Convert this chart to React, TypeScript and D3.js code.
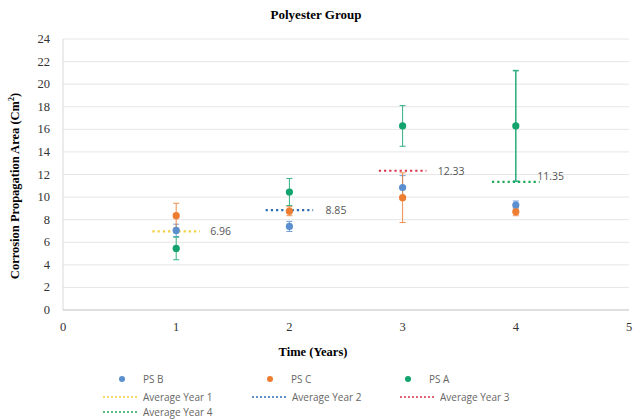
import React from "react";
import * as d3 from "d3";

const years = [1, 2, 3, 4];
const psB = [7.05, 7.4, 10.85, 9.3];
const psBErr = [0.55, 0.45, 1.05, 0.35];
const psC = [8.35, 8.75, 9.95, 8.7];
const psCErr = [1.1, 0.4, 2.2, 0.35];
const psA = [5.45, 10.45, 16.3, 16.3];
const psAErr = [1.0, 1.2, 1.8, 4.9];
const averages = [6.96, 8.85, 12.33, 11.35];
const avgLabels = ["6.96", "8.85", "12.33", "11.35"];
const avgLabelX = [1.3, 2.32, 3.31, 4.19];
const avgLabelDy = [0, 0, 0, -6];
const yTicks = [0, 2, 4, 6, 8, 10, 12, 14, 16, 18, 20, 22, 24];
const xTicks = [0, 1, 2, 3, 4, 5];

const seriesNames = ["PS B", "PS C", "PS A"];
const seriesColors = ["#5b8fd0", "#ed7d31", "#12a36e"];
const avgNames = ["Average Year 1", "Average Year 2", "Average Year 3", "Average Year 4"];
const avgColors = ["#f2cf3a", "#2e6db4", "#d9344a", "#1fa855"];

export default function App() {
  const W = 633, H = 420;
  const x = d3.scaleLinear().domain([0, 5]).range([63, 629]);
  const y = d3.scaleLinear().domain([0, 24]).range([310, 39]);
  const serif = "'Liberation Serif', 'Times New Roman', serif";
  const sans = "'Open Sans', 'DejaVu Sans', sans-serif";
  const series = [
    { v: psB, e: psBErr },
    { v: psC, e: psCErr },
    { v: psA, e: psAErr },
  ];
  return (
    <svg width={W} height={H} style={{ position: "absolute", left: 0, top: 0, background: "#fff" }}>
      <rect width={W} height={H} fill="#fff" />
      <text x={316} y={19} textAnchor="middle" fontFamily={serif} fontWeight="bold" fontSize={13}>Polyester Group</text>
      {yTicks.filter(t => t > 0).map(t => (
        <line key={t} x1={x(0)} x2={x(5)} y1={y(t)} y2={y(t)} stroke="#e6e6e6" strokeWidth={1} />
      ))}
      <line x1={x(0)} x2={x(0)} y1={y(24)} y2={y(0)} stroke="#d9d9d9" />
      <line x1={x(0)} x2={x(5)} y1={y(0)} y2={y(0)} stroke="#bfbfbf" />
      {yTicks.map(t => (
        <text key={t} x={50} y={y(t) + 4} textAnchor="end" fontFamily={serif} fontSize={12.5} fill="#333">{t}</text>
      ))}
      {xTicks.map(t => (
        <text key={t} x={x(t)} y={331} textAnchor="middle" fontFamily={serif} fontSize={12.5} fill="#333">{t}</text>
      ))}
      <text x={313} y={356} textAnchor="middle" fontFamily={serif} fontWeight="bold" fontSize={12.5}>Time (Years)</text>
      <text transform={`translate(19,${186}) rotate(-90)`} textAnchor="middle" fontFamily={serif} fontWeight="bold" fontSize={12.5}>
        Corrosion Propagation Area (Cm<tspan dy={-5} fontSize={8}>2</tspan><tspan dy={5}>)</tspan>
      </text>
      {averages.map((a, i) => (
        <g key={i}>
          <line x1={x(years[i] - 0.21)} x2={x(years[i] + 0.21)} y1={y(a)} y2={y(a)} stroke={avgColors[i]} strokeWidth={2.2} strokeDasharray="2.2,3" />
          <text x={x(avgLabelX[i])} y={y(a) + 4 + avgLabelDy[i]} fontFamily={sans} fontSize={10.5} fill="#555">{avgLabels[i]}</text>
        </g>
      ))}
      {series.map((s, si) => (
        <g key={si}>
          {s.v.map((v, i) => (
            <g key={i} stroke={seriesColors[si]} strokeWidth={si === 2 && i === 3 ? 1.6 : 1} opacity={0.85}>
              <line x1={x(years[i])} x2={x(years[i])} y1={y(v - s.e[i])} y2={y(v + s.e[i])} />
              <line x1={x(years[i]) - 3} x2={x(years[i]) + 3} y1={y(v - s.e[i])} y2={y(v - s.e[i])} />
              <line x1={x(years[i]) - 3} x2={x(years[i]) + 3} y1={y(v + s.e[i])} y2={y(v + s.e[i])} />
            </g>
          ))}
        </g>
      ))}
      {series.map((s, si) => (
        <g key={si}>
          {s.v.map((v, i) => (
            <circle key={i} cx={x(years[i])} cy={y(v)} r={3.6} fill={seriesColors[si]} />
          ))}
        </g>
      ))}
      {seriesNames.map((n, i) => {
        const lx = [122, 270, 408][i];
        return (
          <g key={n}>
            <circle cx={lx} cy={379} r={3} fill={seriesColors[i]} />
            <text x={lx + 21} y={383} fontFamily={sans} fontSize={10} fill="#666">{n}</text>
          </g>
        );
      })}
      {avgNames.map((n, i) => {
        const lx = [103, 252, 400, 103][i];
        const ly = i < 3 ? 397 : 412;
        return (
          <g key={n}>
            <line x1={lx} x2={lx + 35} y1={ly} y2={ly} stroke={avgColors[i]} strokeWidth={1.6} strokeDasharray="2,2" />
            <text x={lx + 40} y={ly + 3.5} fontFamily={sans} fontSize={10} fill="#666">{n}</text>
          </g>
        );
      })}
    </svg>
  );
}
